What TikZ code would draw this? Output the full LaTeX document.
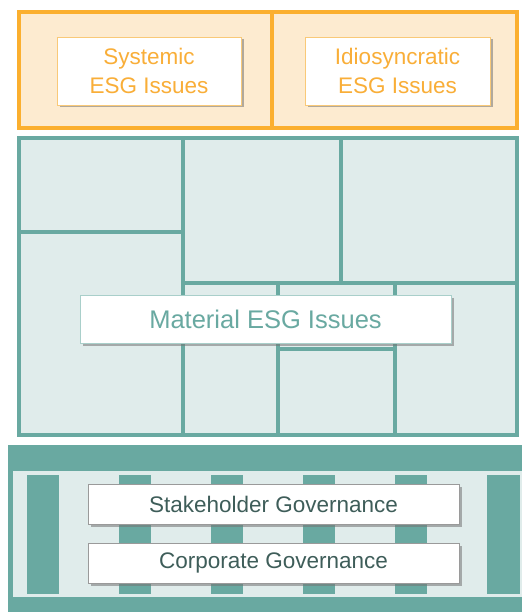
\documentclass[tikz,border=0pt]{standalone}
\usepackage{fontspec}
\setmainfont{Liberation Sans}
\usetikzlibrary{shadows}
\definecolor{orLine}{HTML}{FBAF2F}
\definecolor{orFill}{HTML}{FDEBD0}
\definecolor{orText}{HTML}{F9AE38}
\definecolor{orBorder}{HTML}{F9C978}
\definecolor{tlLine}{HTML}{69A9A1}
\definecolor{tlFill}{HTML}{E0ECEB}
\definecolor{tlBorder}{HTML}{A9CFCA}
\definecolor{govText}{HTML}{3E5D59}
\definecolor{govBorder}{HTML}{9A9A9A}
\tikzset{
  orframe/.style={draw=orLine, line width=3.2pt, fill=orFill, line join=miter},
  orline/.style={draw=orLine, line width=3.2pt},
  tlframe/.style={draw=tlLine, line width=3.6pt, fill=tlFill, line join=miter},
  tlline/.style={draw=tlLine, line width=3.6pt},
  pillar/.style={fill=tlLine},
  card/.style={rectangle, fill=white, line width=0.8pt, inner sep=0pt, align=center,
    drop shadow={shadow xshift=2.5pt, shadow yshift=-2.5pt, opacity=0.55, fill=black!55}},
  orcard/.style={card, draw=orBorder, text=orText, minimum width=184pt, minimum height=68pt,
    font=\fontsize{22.5}{29}\selectfont},
  matcard/.style={card, draw=tlBorder, text=tlLine, minimum width=371pt, minimum height=48pt,
    font=\fontsize{25.5}{30}\selectfont},
  govcard/.style={card, draw=govBorder, text=govText, minimum width=371pt, minimum height=40pt,
    font=\fontsize{22.5}{28}\selectfont},
}
\begin{document}
\begin{tikzpicture}[x=1pt,y=-1pt]
\useasboundingbox (0,0) rectangle (522,612);
% top orange frame
\draw[orframe] (19,12) rectangle (517,128);
\draw[orline] (272,12) -- (272,128);
\node[orcard] (sys) at (149,71) {Systemic\\ESG Issues};
\node[orcard, minimum width=185pt] (idio) at (397.5,71) {Idiosyncratic\\ESG Issues};
% middle teal grid
\draw[tlframe] (19,138) rectangle (517,435);
\draw[tlline] (183,138) -- (183,435);
\draw[tlline] (19,232) -- (183,232);
\draw[tlline] (341,138) -- (341,283);
\draw[tlline] (183,283) -- (517,283);
\draw[tlline] (278,283) -- (278,435);
\draw[tlline] (395,283) -- (395,435);
\draw[tlline] (278,349) -- (395,349);
\node[matcard] (mat) at (265.5,319) {Material ESG Issues};
% bottom section
\fill[tlLine] (8,445) rectangle (522,612);
\fill[tlFill] (13,471) rectangle (522,597);
\fill[pillar] (27,475) rectangle (59,594);
\fill[pillar] (119,475) rectangle (151,594);
\fill[pillar] (211,475) rectangle (243,594);
\fill[pillar] (303,475) rectangle (335,594);
\fill[pillar] (395,475) rectangle (427,594);
\fill[pillar] (487,475) rectangle (520,594);
\node[govcard] (stake) at (273.5,504) {Stakeholder Governance};
\node[govcard] (corp) at (273.5,563) {Corporate Governance};
\end{tikzpicture}
\end{document}
